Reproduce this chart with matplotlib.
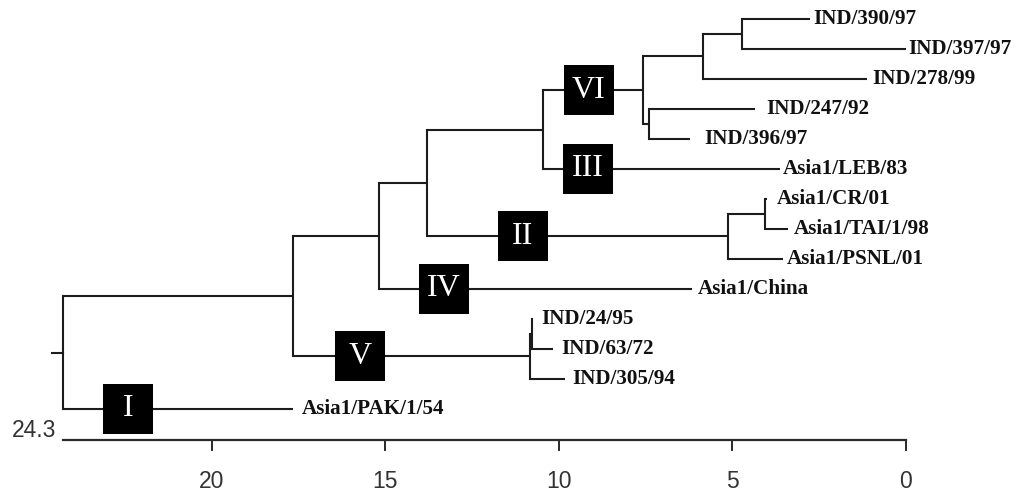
import matplotlib
matplotlib.use("Agg")
import matplotlib.pyplot as plt

# ---------------- data ----------------
tip_names = ["IND/390/97", "IND/397/97", "IND/278/99", "IND/247/92", "IND/396/97",
             "Asia1/LEB/83", "Asia1/CR/01", "Asia1/TAI/1/98", "Asia1/PSNL/01",
             "Asia1/China", "IND/24/95", "IND/63/72", "IND/305/94", "Asia1/PAK/1/54"]
tip_heights = [2.77, 0.0, 1.12, 4.34, 6.22, 3.63, 4.0, 3.40, 3.54, 6.17,
               10.75, 10.17, 9.83, 17.67]

node_names = ["H", "G", "F", "E", "D", "CT", "II", "C", "B", "Vs", "V", "A", "root"]
node_children = [[0, 1], ["H", 2], [3, 4], ["G", "F"], ["E", 5], [6, 7], ["CT", 8],
                 ["D", "II"], ["C", 9], [10, 11], ["Vs", 12], ["B", "V"], ["A", 13]]
node_heights = [4.73, 5.85, 7.41, 7.58, 10.46, 4.06, 5.13, 13.80, 15.19, 10.78,
                10.84, 17.67, 24.3]
root_stem = 24.62

clade_labels = ["I", "V", "IV", "II", "III", "VI"]
clade_branch = [13, "V", 9, "II", 5, "E"]
clade_x = [22.42, 15.73, 13.31, 11.04, 9.16, 9.14]

tick_values = [20, 15, 10, 5, 0]
axis_max = 24.3

# ---------------- layout / style ----------------
label_gap_px = [3, 2, 5, 11, 14, 3, 10, 6, 4, 6, 8, 8, 7, 9]
LINE = "#1c1c1c"
LW = 1.5

fig = plt.figure(figsize=(10.19, 4.95), dpi=100)
ax = fig.add_axes([0, 0, 1, 1])
ax.set_xlim(26.11, -3.26)
ax.set_ylim(15.87, -0.633)

# compute y of every node
ypos = {}
hpos = {}
for i, h in enumerate(tip_heights):
    ypos[i] = float(i)
    hpos[i] = h
for name, ch, h in zip(node_names, node_children, node_heights):
    ys = [ypos[c] for c in ch]
    ypos[name] = (min(ys) + max(ys)) / 2
    hpos[name] = h

# draw tree
for name, ch in zip(node_names, node_children):
    ys = [ypos[c] for c in ch]
    ax.plot([hpos[name], hpos[name]], [min(ys), max(ys)], color=LINE, lw=LW,
            solid_capstyle="projecting", zorder=2)
    for c in ch:
        ax.plot([hpos[name], hpos[c]], [ypos[c], ypos[c]], color=LINE, lw=LW,
                solid_capstyle="butt", zorder=2)
ax.plot([root_stem, hpos["root"]], [ypos["root"], ypos["root"]], color=LINE, lw=LW, zorder=2)

# tip labels
for i, name in enumerate(tip_names):
    ax.annotate(name, (tip_heights[i], ypos[i]), xytext=(label_gap_px[i] * 0.72, 0),
                textcoords="offset points", ha="left", va="center",
                fontfamily="Liberation Serif", fontweight="bold", fontsize=15.2,
                color="#111111")

# clade boxes
for lab, br, x in zip(clade_labels, clade_branch, clade_x):
    y = ypos[br]
    ax.plot([x], [y], marker="s", markersize=36, color="black", markeredgewidth=0, zorder=3)
    ax.text(x, y, lab, ha="center", va="center", color="white",
            fontfamily="Liberation Serif", fontsize=23, zorder=4)

# axis
axis_y = (440 - 19) / 30
for s in ["top", "left", "right"]:
    ax.spines[s].set_visible(False)
ax.spines["bottom"].set_position(("data", axis_y))
ax.spines["bottom"].set_bounds(tick_values[-1], axis_max)
ax.spines["bottom"].set_linewidth(1.6)
ax.spines["bottom"].set_color("#2a2a2a")
ax.set_yticks([])
ax.set_xticks(tick_values)
ax.set_xticklabels([str(v) for v in tick_values])
ax.tick_params(axis="x", direction="out", length=8, width=1.4, color="#2a2a2a",
               pad=14, labelsize=16.5, labelcolor="#333333")
for t in ax.get_xticklabels():
    t.set_fontfamily("Liberation Sans")
ax.annotate(str(axis_max), (axis_max, axis_y), xytext=(-4.5, 7),
            textcoords="offset points", ha="right", va="center",
            fontfamily="Liberation Sans", fontsize=16.5, color="#333333")

fig.savefig("out.png", dpi=100, facecolor="white")
